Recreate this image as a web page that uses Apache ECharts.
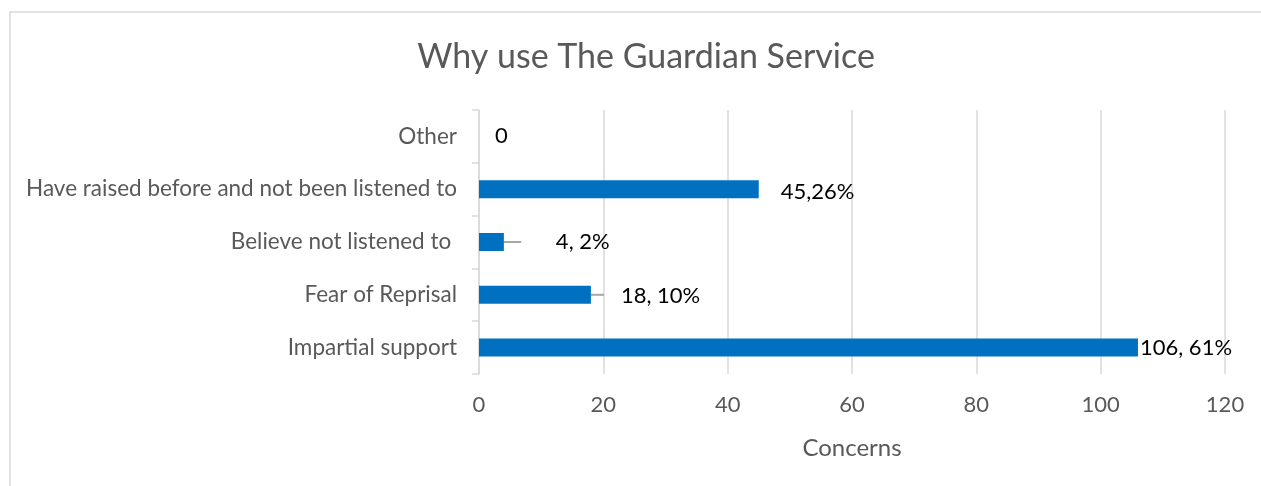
<!DOCTYPE html>
<html><head><meta charset="utf-8">
<script src="https://cdn.jsdelivr.net/npm/echarts@6/dist/echarts.min.js"></script>
<style>html,body{margin:0;padding:0;background:#fff}#c{width:1261px;height:486px}</style>
</head><body><div id="c"></div>
<script>
const categories = ["Impartial support", "Fear of Reprisal", "Believe not listened to ", "Have raised before and not been listened to", "Other"];
const values = [106, 18, 4, 45, 0];
const errPlus = [0, 2.1, 2.8, 0, 0];
const labels = ["106, 61%", "18, 10%", "4, 2%", "45,26%", "0"];
const xTicks = [0, 20, 40, 60, 80, 100, 120];
const labelOffsets = [[0, 0], [28, 1], [50, 0], [20, 3], [14, 0]];

const FONT = "Lato, 'Open Sans', sans-serif";
const chart = echarts.init(document.getElementById('c'));
chart.setOption({
  animation: false,
  title: { text: "Why use The Guardian Service", left: 641, textAlign: 'center', top: 35,
    textStyle: { fontFamily: FONT, fontWeight: 'normal', fontSize: 34, color: '#595959' } },
  grid: { left: 479, right: 36, top: 110, bottom: 112 },
  xAxis: { type: 'value', min: xTicks[0], max: xTicks[xTicks.length - 1], interval: 20,
    name: 'Concerns', nameLocation: 'middle', nameGap: 62,
    nameTextStyle: { fontFamily: FONT, fontSize: 24, color: '#595959' },
    axisLine: { show: false }, axisTick: { show: false },
    axisLabel: { fontFamily: FONT, fontSize: 22, color: '#595959', margin: 20 },
    splitLine: { lineStyle: { color: '#d9d9d9', width: 1.5 } } },
  yAxis: { type: 'category', data: categories,
    axisLine: { show: true, lineStyle: { color: '#d9d9d9', width: 1.5 } },
    axisTick: { show: true, length: 7, lineStyle: { color: '#d9d9d9', width: 1.5 } },
    axisLabel: { fontFamily: FONT, fontSize: 22.5, color: '#595959', margin: 22 } },
  graphic: [{ type: 'rect', shape: { x: 10, y: 12, width: 1400, height: 600 }, silent: true,
    style: { fill: 'none', stroke: '#d9d9d9', lineWidth: 1.5 }, z: -1 }],
  series: [
    { type: 'bar', barWidth: 18, itemStyle: { color: '#0070c0' },
      data: values.map((v, i) => ({ value: v, label: { offset: labelOffsets[i] } })),
      label: { show: true, position: 'right', distance: 2, fontFamily: FONT, fontSize: 22, color: '#000',
        formatter: p => labels[p.dataIndex] } },
    { type: 'custom', data: values.map((v, i) => [v, i, errPlus[i]]),
      renderItem: (params, api) => {
        const e = api.value(2);
        if (!e) return null;
        const a = api.coord([api.value(0), api.value(1)]);
        const b = api.coord([api.value(0) + e, api.value(1)]);
        return { type: 'line', shape: { x1: a[0], y1: a[1], x2: b[0], y2: b[1] },
          style: { stroke: '#a6a6a6', lineWidth: 2 } };
      }, z: 1 }
  ]
});
</script></body></html>
